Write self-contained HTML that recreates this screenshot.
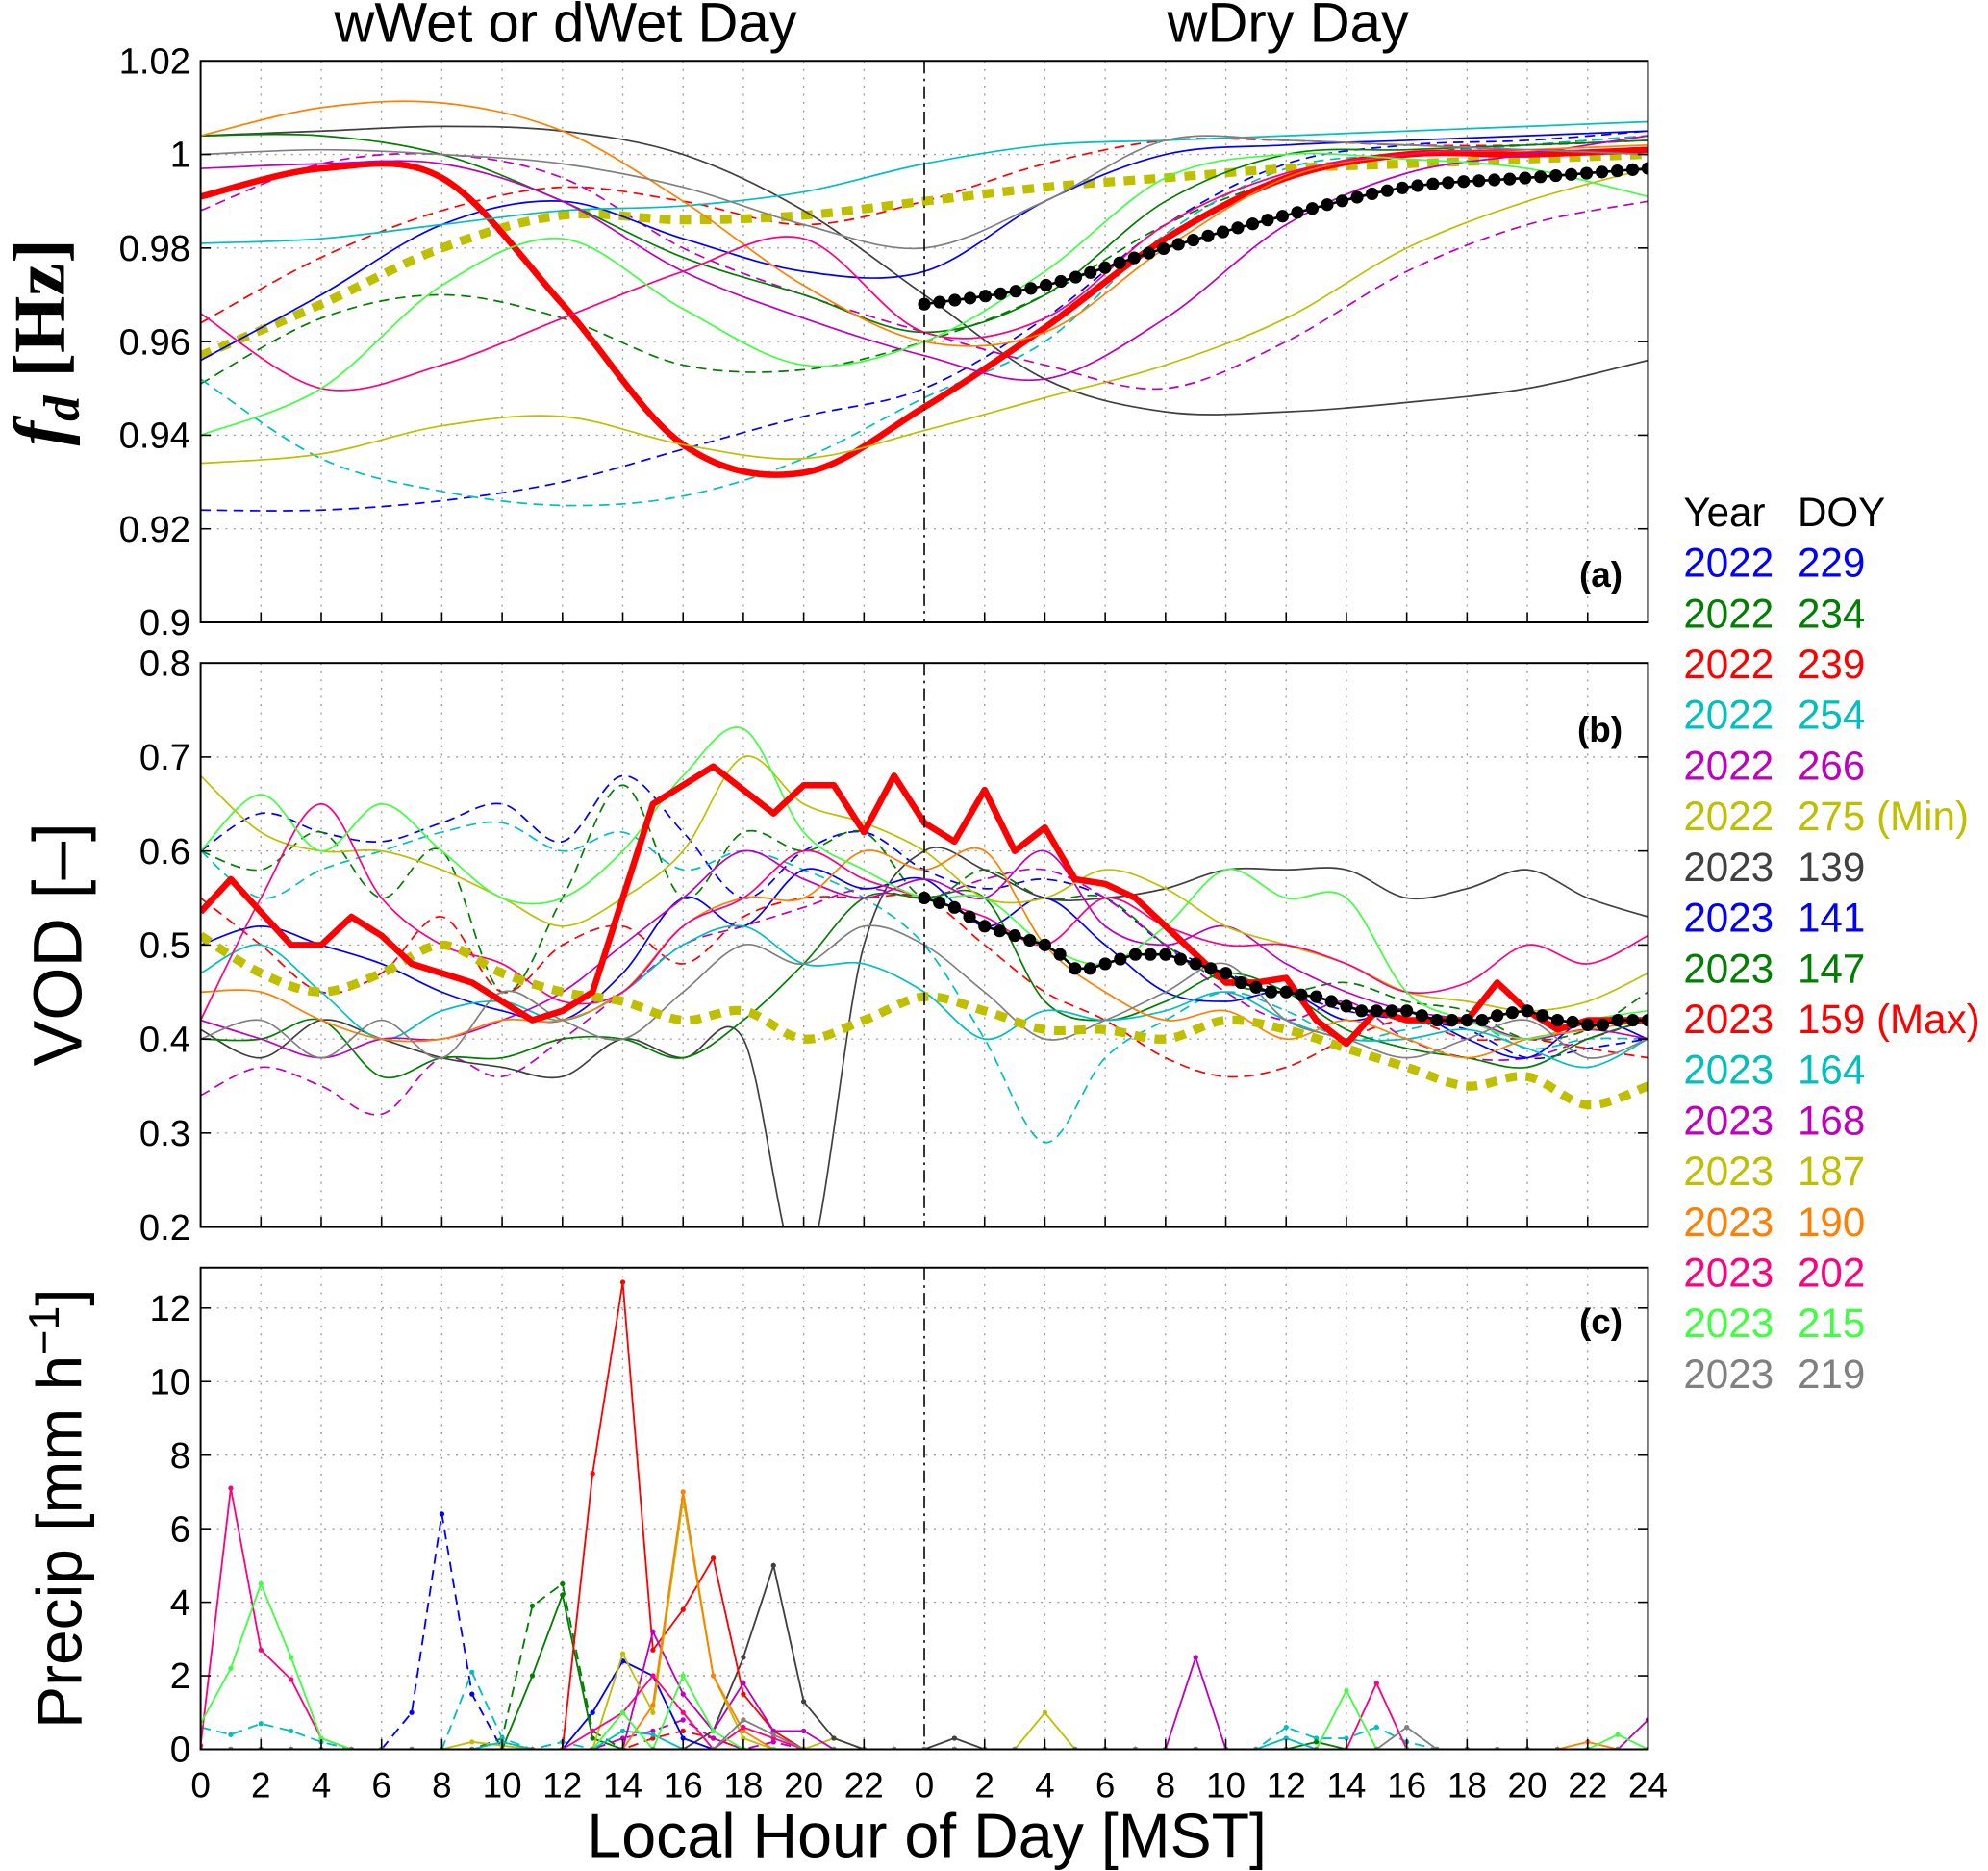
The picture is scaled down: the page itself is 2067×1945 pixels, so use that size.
<!DOCTYPE html>
<html><head><meta charset="utf-8"><style>
html,body{margin:0;padding:0;background:#fff;}
svg{display:block;font-family:"Liberation Sans",sans-serif;}
</style></head><body>
<svg id="fig" width="2067" height="1945" viewBox="0 0 1568 1476" xmlns="http://www.w3.org/2000/svg">
<defs>
<clipPath id="clipA"><rect x="158" y="48" width="1142" height="443"/></clipPath>
<clipPath id="clipB"><rect x="158" y="523" width="1142" height="445"/></clipPath>
<clipPath id="clipC"><rect x="158" y="1000" width="1142" height="380"/></clipPath>
</defs>
<rect width="1568" height="1476" fill="#fff"/>
<g id="grid"></g>
<g id="series-a" clip-path="url(#clipA)"></g>
<g id="series-b" clip-path="url(#clipB)"></g>
<g id="series-c" clip-path="url(#clipC)"></g>
<g id="axes"></g>
<text x="446" y="33" font-size="44" text-anchor="middle">wWet or dWet Day</text>
<text x="1016" y="33" font-size="44" text-anchor="middle">wDry Day</text>
<text transform="translate(50,270) rotate(-90)" font-size="58" text-anchor="middle" font-family="'Liberation Serif',serif" font-weight="bold"><tspan font-style="italic">f</tspan><tspan font-style="italic" font-size="40" dy="12">d</tspan><tspan dy="-12"> [Hz]</tspan></text>
<text transform="translate(64,745) rotate(-90)" font-size="54" text-anchor="middle">VOD [–]</text>
<text transform="translate(64,1190) rotate(-90)" font-size="50" text-anchor="middle">Precip [mm h<tspan font-size="34" dy="-18">−1</tspan><tspan dy="18">]</tspan></text>
<text x="731" y="1465" font-size="49" text-anchor="middle">Local Hour of Day [MST]</text>
<text x="1280" y="463" font-size="28" font-weight="bold" text-anchor="end">(a)</text>
<text x="1280" y="585" font-size="28" font-weight="bold" text-anchor="end">(b)</text>
<text x="1280" y="1052" font-size="28" font-weight="bold" text-anchor="end">(c)</text>
<g id="legend">
<text x="1328" y="415" font-size="32">Year</text><text x="1418" y="415" font-size="32">DOY</text>
</g>
</svg>
<script>
// ---- categories ----
const hours4 = [0,4,8,12,16,20,24,28,32,36,40,44,48];
const hours2 = [0,2,4,6,8,10,12,14,16,18,20,22,24,26,28,30,32,34,36,38,40,42,44,46,48];
const seriesNames = ["2022 229","2022 234","2022 239","2022 254","2022 266","2022 275","2023 139","2023 141","2023 147","2023 159","2023 164","2023 168","2023 187","2023 190","2023 202","2023 215","2023 219"];
const seriesColors = ["#0000ff","#007f00","#ff0000","#00bfbf","#bf00bf","#bfbf00","#404040","#0000ff","#007f00","#ff0000","#00bfbf","#bf00bf","#bfbf00","#ff7f00","#ff0080","#40ff40","#808080"];
const seriesDash = ["8,5","8,5","8,5","8,5","8,5","", "", "", "", "", "", "", "", "", "", "", ""];
const legendSuffix = ["","","","","","(Min)","","","","(Max)","","","","","","",""];
// ---- panel (a) fd values at hours4 ----
const fd229 = [0.924,0.924,0.926,0.930,0.937,0.944,0.950,0.965,0.985,0.998,1.002,1.003,1.005];
const fd234 = [0.951,0.965,0.970,0.965,0.955,0.954,0.960,0.970,0.985,0.995,1.0,1.002,1.004];
const fd239 = [0.964,0.978,0.988,0.993,0.990,0.985,0.990,0.998,1.003,1.003,1.002,1.002,1.003];
const fd254 = [0.952,0.935,0.928,0.925,0.927,0.935,0.948,0.960,0.983,0.997,1.0,1.002,1.004];
const fd266 = [0.988,0.998,1.0,0.995,0.980,0.970,0.962,0.955,0.950,0.960,0.975,0.985,0.990];
const fd275 = [0.957,0.968,0.980,0.987,0.986,0.987,0.990,0.993,0.995,0.997,0.998,0.999,1.0];
const fd139 = [1.004,1.005,1.006,1.005,1.000,0.988,0.970,0.952,0.945,0.945,0.947,0.950,0.956];
const fd141 = [0.956,0.970,0.985,0.990,0.982,0.975,0.975,0.990,1.0,1.002,1.003,1.004,1.005];
const fd147 = [1.004,1.004,1.0,0.990,0.978,0.970,0.962,0.970,0.990,1.0,1.001,1.002,1.003];
const fd159 = [0.991,0.997,0.995,0.968,0.938,0.932,0.946,0.963,0.982,0.995,1.0,1.0,1.001];
const fd164 = [0.981,0.982,0.985,0.988,0.989,0.992,0.998,1.002,1.003,1.004,1.005,1.006,1.007];
const fd168 = [0.997,0.998,0.998,0.990,0.975,0.965,0.957,0.952,0.965,0.985,0.996,1.0,1.004];
const fd187 = [0.934,0.936,0.942,0.944,0.938,0.935,0.941,0.948,0.955,0.965,0.980,0.990,0.997];
const fd190 = [1.004,1.010,1.011,1.005,0.990,0.972,0.960,0.962,0.980,0.995,1.0,1.001,1.002];
const fd202 = [0.966,0.950,0.955,0.965,0.975,0.982,0.962,0.965,0.985,0.996,1.0,1.001,1.0];
const fd215 = [0.940,0.950,0.972,0.982,0.967,0.955,0.960,0.975,0.995,1.0,0.999,0.997,0.991];
const fd219 = [1.0,1.001,1.0,0.998,0.993,0.985,0.980,0.990,1.003,1.003,1.002,1.001,1.0];
const fdMeanHours = [24,28,32,36,40,44,48];
const fdMean = [0.968,0.972,0.980,0.987,0.993,0.995,0.997];
// ---- panel (b) VOD values at hours2 ----
const vod229 = [0.60,0.64,0.62,0.61,0.63,0.65,0.61,0.68,0.62,0.55,0.60,0.62,0.58,0.56,0.57,0.55,0.50,0.47,0.45,0.43,0.42,0.41,0.38,0.39,0.40];
const vod234 = [0.60,0.58,0.62,0.55,0.60,0.45,0.55,0.67,0.55,0.62,0.60,0.62,0.55,0.58,0.55,0.55,0.50,0.46,0.45,0.46,0.44,0.43,0.40,0.41,0.45];
const vod239 = [0.55,0.50,0.45,0.47,0.53,0.45,0.50,0.52,0.48,0.53,0.55,0.55,0.55,0.50,0.45,0.42,0.38,0.36,0.37,0.40,0.42,0.40,0.40,0.39,0.38];
const vod254 = [0.60,0.55,0.58,0.60,0.62,0.63,0.60,0.62,0.58,0.60,0.58,0.55,0.50,0.40,0.29,0.38,0.42,0.45,0.43,0.40,0.41,0.42,0.39,0.40,0.40];
const vod266 = [0.34,0.37,0.35,0.32,0.38,0.36,0.40,0.45,0.50,0.52,0.54,0.56,0.55,0.57,0.58,0.55,0.50,0.45,0.42,0.44,0.40,0.38,0.38,0.40,0.42];
const vod275 = [0.51,0.47,0.45,0.47,0.50,0.47,0.45,0.44,0.42,0.43,0.40,0.42,0.445,0.43,0.41,0.41,0.40,0.42,0.41,0.39,0.37,0.35,0.36,0.33,0.35];
const vod139 = [0.41,0.38,0.42,0.40,0.38,0.37,0.36,0.40,0.38,0.40,0.15,0.50,0.60,0.58,0.55,0.55,0.56,0.58,0.58,0.58,0.55,0.56,0.58,0.55,0.53];
const vod141 = [0.50,0.52,0.50,0.48,0.45,0.43,0.42,0.47,0.55,0.52,0.58,0.56,0.57,0.52,0.55,0.50,0.45,0.44,0.45,0.42,0.43,0.40,0.38,0.42,0.40];
const vod147 = [0.40,0.40,0.42,0.36,0.38,0.38,0.40,0.40,0.38,0.42,0.48,0.55,0.55,0.55,0.44,0.42,0.44,0.47,0.45,0.41,0.39,0.38,0.37,0.40,0.42];
const vod164 = [0.47,0.50,0.45,0.40,0.43,0.44,0.42,0.45,0.50,0.52,0.48,0.48,0.45,0.40,0.43,0.42,0.43,0.45,0.42,0.40,0.40,0.41,0.39,0.37,0.40];
const vod168 = [0.42,0.40,0.38,0.40,0.40,0.42,0.45,0.50,0.55,0.60,0.57,0.55,0.57,0.55,0.60,0.52,0.50,0.52,0.48,0.45,0.43,0.42,0.40,0.41,0.40];
const vod187 = [0.68,0.62,0.60,0.60,0.58,0.55,0.52,0.55,0.60,0.70,0.65,0.63,0.60,0.55,0.55,0.58,0.56,0.52,0.50,0.48,0.45,0.44,0.43,0.44,0.47];
const vod190 = [0.45,0.45,0.42,0.40,0.40,0.42,0.42,0.45,0.52,0.55,0.55,0.60,0.58,0.60,0.50,0.45,0.42,0.43,0.40,0.42,0.40,0.38,0.40,0.41,0.42];
const vod202 = [0.42,0.55,0.65,0.55,0.50,0.48,0.44,0.45,0.52,0.55,0.60,0.57,0.55,0.53,0.50,0.55,0.52,0.50,0.50,0.48,0.45,0.46,0.50,0.48,0.51];
const vod215 = [0.60,0.66,0.60,0.65,0.60,0.55,0.55,0.60,0.68,0.73,0.62,0.58,0.55,0.55,0.50,0.48,0.52,0.58,0.55,0.55,0.45,0.42,0.40,0.42,0.43];
const vod219 = [0.40,0.42,0.38,0.42,0.38,0.45,0.42,0.40,0.45,0.50,0.48,0.52,0.50,0.45,0.40,0.42,0.45,0.48,0.42,0.40,0.38,0.40,0.42,0.38,0.40];
// VOD 159 (Max) hourly 0..48
const vod159 = [0.535,0.57,0.535,0.50,0.50,0.53,0.51,0.48,0.47,0.46,0.44,0.42,0.43,0.45,0.55,0.65,0.67,0.69,0.665,0.64,0.67,0.67,0.62,0.68,0.63,0.61,0.665,0.60,0.625,0.57,0.565,0.55,0.52,0.49,0.46,0.46,0.465,0.42,0.395,0.43,0.42,0.42,0.42,0.46,0.43,0.41,0.42,0.42,0.42];
// mean (black markers) half-hourly from 24 to 48
const vodMean = [0.55,0.545,0.54,0.53,0.52,0.515,0.51,0.505,0.50,0.49,0.475,0.475,0.48,0.485,0.49,0.49,0.49,0.485,0.48,0.475,0.47,0.46,0.455,0.45,0.45,0.447,0.445,0.44,0.435,0.43,0.43,0.43,0.43,0.425,0.42,0.42,0.42,0.42,0.425,0.428,0.43,0.425,0.42,0.418,0.415,0.415,0.42,0.42,0.42];
// ---- panel (c) precip: [hour, mm/h] nonzero entries ----
const pr229 = [[7,1.0],[8,6.4],[9,1.5]];
const pr234 = [[10,0.3],[11,3.9],[12,4.5],[13,0.5]];
const pr239 = [[15,0.3],[16,0.5],[17,0.3]];
const pr254 = [[0,0.6],[1,0.4],[2,0.7],[3,0.5],[4,0.2],[9,2.1],[10,0.3],[12,0.2],[36,0.6],[37,0.3],[38,0.3],[39,0.6],[40,0.2]];
const pr266 = [[14,0.3],[15,0.5],[16,0.8],[17,0.3],[19,0.2]];
const pr275 = [[9,0.2],[10,0.1],[21,0.3]];
const pr139 = [[17,0.5],[18,2.5],[19,5.0],[20,1.3],[21,0.3],[25,0.3]];
const pr141 = [[13,1.0],[14,2.4],[15,2.0],[16,0.3]];
const pr147 = [[11,2.0],[12,4.2],[13,0.3],[37,0.2]];
const pr159 = [[13,7.5],[14,12.7],[15,2.7],[16,3.8],[17,5.2],[18,1.5],[19,0.5]];
const pr164 = [[10,0.2],[14,0.5],[15,0.4],[36,0.3]];
const pr168 = [[15,3.2],[16,1.5],[17,0.5],[18,1.8],[19,0.5],[20,0.5],[33,2.5],[48,0.8]];
const pr187 = [[14,2.6],[15,1.0],[16,6.8],[17,2.0],[18,0.3],[28,1.0]];
const pr190 = [[15,1.2],[16,7.0],[17,2.0],[18,0.5],[46,0.2]];
const pr202 = [[0,0.1],[1,7.1],[2,2.7],[3,1.9],[4,0.3],[13,0.5],[14,1.0],[15,2.0],[16,1.0],[18,0.6],[19,0.3],[39,1.8]];
const pr215 = [[0,0.7],[1,2.2],[2,4.5],[3,2.5],[4,0.3],[14,1.0],[16,2.0],[17,0.5],[38,1.6],[47,0.4]];
const pr219 = [[18,0.8],[19,0.4],[40,0.6]];

const fdAll = [fd229,fd234,fd239,fd254,fd266,fd275,fd139,fd141,fd147,fd159,fd164,fd168,fd187,fd190,fd202,fd215,fd219];
const vodAll = [vod229,vod234,vod239,vod254,vod266,vod275,vod139,vod141,vod147,null,vod164,vod168,vod187,vod190,vod202,vod215,vod219];
const prAll = [pr229,pr234,pr239,pr254,pr266,pr275,pr139,pr141,pr147,pr159,pr164,pr168,pr187,pr190,pr202,pr215,pr219];

const NS="http://www.w3.org/2000/svg";
const X0=158,X1=1300;
const xs = h => X0 + h/48*(X1-X0);
const yA = v => 491 - (v-0.9)/0.12*443;
const yB = v => 968 - (v-0.2)/0.6*445;
const yC = v => 1380 - v/13.1*380;
function el(tag, attrs, parent){const e=document.createElementNS(NS,tag);for(const k in attrs)e.setAttribute(k,attrs[k]);parent.appendChild(e);return e;}
function smoothPath(pts){
  let d=`M${pts[0][0]},${pts[0][1]}`;
  for(let i=0;i<pts.length-1;i++){
    const p0=pts[Math.max(0,i-1)],p1=pts[i],p2=pts[i+1],p3=pts[Math.min(pts.length-1,i+2)];
    const c1=[p1[0]+(p2[0]-p0[0])/6,p1[1]+(p2[1]-p0[1])/6];
    const c2=[p2[0]-(p3[0]-p1[0])/6,p2[1]-(p3[1]-p1[1])/6];
    d+=` C${c1[0]},${c1[1]} ${c2[0]},${c2[1]} ${p2[0]},${p2[1]}`;
  }
  return d;
}
const grid=document.getElementById('grid'), axes=document.getElementById('axes');
const gA=document.getElementById('series-a'), gB=document.getElementById('series-b'), gC=document.getElementById('series-c');
const panels=[{t:48,b:491,ticks:[0.9,0.92,0.94,0.96,0.98,1.0,1.02],lab:["0.9","0.92","0.94","0.96","0.98","1","1.02"],f:yA},
 {t:523,b:968,ticks:[0.2,0.3,0.4,0.5,0.6,0.7,0.8],lab:["0.2","0.3","0.4","0.5","0.6","0.7","0.8"],f:yB},
 {t:1000,b:1380,ticks:[0,2,4,6,8,10,12],lab:["0","2","4","6","8","10","12"],f:yC}];
panels.forEach((p,pi)=>{
  for(let h=2;h<48;h+=2){ if(h===24)continue;
    const g=el('line',{x1:xs(h),x2:xs(h),y1:p.t,y2:p.b,stroke:'#999','stroke-width':1,'stroke-dasharray':'1.5,5'},grid);
    
    
    const tk=el('line',{x1:xs(h),x2:xs(h),y1:p.b,y2:p.b-8,stroke:'#000','stroke-width':1.2},axes);
    
    
  }
  p.ticks.forEach((v,i)=>{
    const y=p.f(v);
    if(y>p.t+1&&y<p.b-1){
      const g=el('line',{x1:X0,x2:X1,y1:y,y2:y,stroke:'#999','stroke-width':1,'stroke-dasharray':'1.5,5'},grid);
      
      
      el('line',{x1:X0,x2:X0+8,y1:y,y2:y,stroke:'#000','stroke-width':1.2},axes);
      el('line',{x1:X1,x2:X1-8,y1:y,y2:y,stroke:'#000','stroke-width':1.2},axes);
    }
    const t=el('text',{x:150,y:y+10,'font-size':29,'text-anchor':'end'},axes);
    t.textContent=p.lab[i];
    
    
  });
  const r=el('rect',{x:X0,y:p.t,width:X1-X0,height:p.b-p.t,fill:'none',stroke:'#000','stroke-width':1.5},axes);
  
  
  const dl=el('line',{x1:xs(24),x2:xs(24),y1:p.t,y2:p.b,stroke:'#000','stroke-width':1.2,'stroke-dasharray':'10,4,2,4'},axes);
  
  
});
for(let h=0;h<=48;h+=2){
  const t=el('text',{x:xs(h),y:1418,'font-size':28,'text-anchor':'middle'},axes);
  t.textContent=String(h>=24?h-24:h);
  
  
}
// panel a
fdAll.forEach((arr,i)=>{
  const pts=arr.map((v,k)=>[xs(hours4[k]),yA(v)]);
  const thick = i===9?5 : i===5?7 : 1.3;
  const dash = i===5?'9,7' : seriesDash[i];
  const p=el('path',{d:smoothPath(pts),fill:'none',stroke:seriesColors[i],'stroke-width':thick,'stroke-dasharray':dash},gA);
  
  
});
{
  const pts=fdMean.map((v,k)=>[xs(fdMeanHours[k]),yA(v)]);
  const path=el('path',{d:smoothPath(pts),fill:'none',stroke:'#000','stroke-width':2},gA);
  
  
  const pe=path.getTotalLength();
  for(let k=0;k<=48;k++){
    const pt=path.getPointAtLength(pe*k/48);
    const c=el('circle',{cx:pt.x,cy:pt.y,r:5,fill:'#000'},gA);
    
    
  }
}
// panel b
vodAll.forEach((arr,i)=>{
  if(!arr||i===5)return;
  const pts=arr.map((v,k)=>[xs(hours2[k]),yB(v)]);
  const p=el('path',{d:smoothPath(pts),fill:'none',stroke:seriesColors[i],'stroke-width':1.3,'stroke-dasharray':seriesDash[i]},gB);
  
  
});
{
  const pts=vod275.map((v,k)=>[xs(hours2[k]),yB(v)]);
  const p=el('path',{d:smoothPath(pts),fill:'none',stroke:'#bfbf00','stroke-width':7,'stroke-dasharray':'9,7'},gB);
  
  
  const pr=vod159.map((v,k)=>[xs(k),yB(v)]);
  const q=el('polyline',{points:pr.map(a=>a.join(',')).join(' '),fill:'none',stroke:'#ff0000','stroke-width':5,'stroke-linejoin':'round'},gB);
  
  
  const pm=vodMean.map((v,k)=>[xs(24+k*0.5),yB(v)]);
  const m=el('polyline',{points:pm.map(a=>a.join(',')).join(' '),fill:'none',stroke:'#000','stroke-width':2},gB);
  
  
  pm.forEach(a=>{const c=el('circle',{cx:a[0],cy:a[1],r:5,fill:'#000'},gB);
    
    });
}
// panel c
prAll.forEach((pairs,i)=>{
  const vals=new Array(49).fill(0);
  pairs.forEach(([h,v])=>{vals[h]=v;});
  const pts=vals.map((v,k)=>[xs(k),yC(v)]);
  const p=el('polyline',{points:pts.map(a=>a.join(',')).join(' '),fill:'none',stroke:seriesColors[i],'stroke-width':1.4,'stroke-dasharray':seriesDash[i]},gC);
  
  
  pts.forEach(a=>{const c=el('circle',{cx:a[0],cy:a[1],r:2,fill:seriesColors[i]},gC);
    
    });
});
// legend
const lg=document.getElementById('legend');
seriesNames.forEach((n,i)=>{
  const [yr,doy]=n.split(' ');
  const y=455+40*i;
  const t1=el('text',{x:1328,y:y,'font-size':32,fill:seriesColors[i]},lg);
  t1.textContent=yr;
  
  
  const t2=el('text',{x:1418,y:y,'font-size':32,fill:seriesColors[i]},lg);
  t2.textContent=doy+(legendSuffix[i]?' '+legendSuffix[i]:'');
  
  
});
</script>
</body></html>
